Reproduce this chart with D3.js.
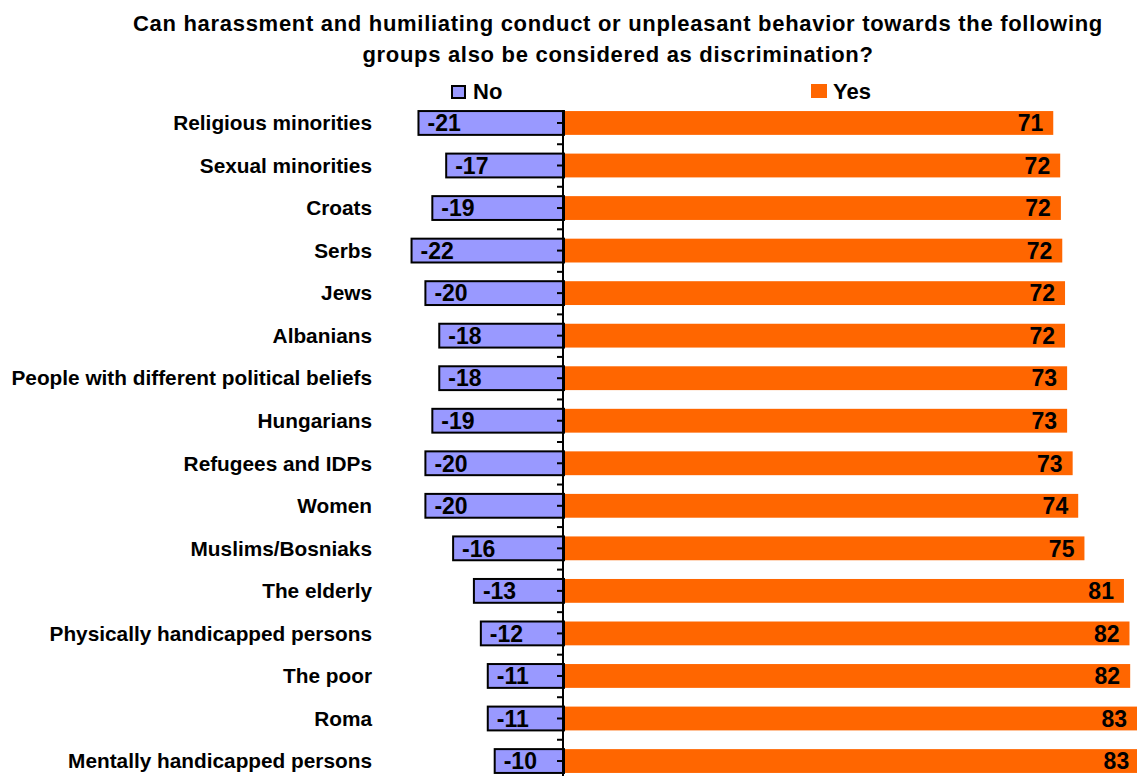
<!DOCTYPE html>
<html>
<head>
<meta charset="utf-8">
<script src="https://cdn.jsdelivr.net/npm/d3@7"></script>
<style>
  html, body { margin: 0; padding: 0; background: #fff; }
  svg text { font-family: Arial, "Liberation Sans", Helvetica, sans-serif; font-weight: bold; fill: #000; }
</style>
</head>
<body>
<svg id="chart" width="1137" height="776"></svg>
<script>
const titleLines = [
  "Can harassment and humiliating conduct or unpleasant behavior towards the following",
  "groups also be considered as discrimination?"
];
const categories = [
  "Religious minorities", "Sexual minorities", "Croats", "Serbs", "Jews", "Albanians",
  "People with different political beliefs", "Hungarians", "Refugees and IDPs", "Women",
  "Muslims/Bosniaks", "The elderly", "Physically handicapped persons", "The poor", "Roma",
  "Mentally handicapped persons"
];
const noValues  = [-21, -17, -19, -22, -20, -18, -18, -19, -20, -20, -16, -13, -12, -11, -11, -10];
const yesValues = [70.6, 71.6, 71.7, 71.9, 72.3, 72.3, 72.6, 72.6, 73.4, 74.2, 75.1, 80.8, 81.6, 81.7, 82.7, 83.0];
const seriesNames = ["No", "Yes"];
const seriesColors = ["#9999FF", "#FF6600"];

const svg = d3.select("#chart");

// Title
svg.append("g").selectAll("text").data(titleLines).join("text")
  .attr("x", 618).attr("y", (d, i) => 31 + i * 31)
  .attr("text-anchor", "middle").attr("font-size", 22).attr("letter-spacing", 0.7).text(d => d);

const x = d3.scaleLinear().domain([0, 83]).range([564, 564 + 83 * 6.93]);
const y = d3.scaleBand().domain(categories).range([101.7, 782.3]).paddingInner(0.44).paddingOuter(0.22);
const step = y.step();
const center = c => y(c) + y.bandwidth() / 2;

// Yes bars
svg.append("g").selectAll("rect").data(categories).join("rect")
  .attr("x", x(0) + 1).attr("y", c => y(c))
  .attr("width", (c, i) => x(yesValues[i]) - x(0) - 1)
  .attr("height", y.bandwidth())
  .attr("fill", seriesColors[1]);

// No bars
svg.append("g").selectAll("rect").data(categories).join("rect")
  .attr("x", (c, i) => x(noValues[i]))
  .attr("y", c => y(c))
  .attr("width", (c, i) => x(0) - x(noValues[i]))
  .attr("height", y.bandwidth())
  .attr("fill", seriesColors[0]).attr("stroke", "#000").attr("stroke-width", 2);

// Axis line with ticks at centers and boundaries
const axisG = svg.append("g");
const tickYs = [];
categories.forEach(c => { tickYs.push(center(c)); tickYs.push(center(c) + step / 2); });
axisG.selectAll("line.tick").data(tickYs).join("line")
  .attr("x1", x(0) - 7).attr("x2", x(0)).attr("y1", d => d).attr("y2", d => d)
  .attr("stroke", "#000").attr("stroke-width", 2);
axisG.append("line")
  .attr("x1", x(0) - 1).attr("x2", x(0) - 1)
  .attr("y1", y(categories[0]) - 1).attr("y2", 776)
  .attr("stroke", "#000").attr("stroke-width", 2);

// Category labels
svg.append("g").selectAll("text").data(categories).join("text")
  .attr("x", 372).attr("y", c => center(c)).attr("dy", "0.35em")
  .attr("text-anchor", "end").attr("font-size", 20.8).text(c => c);

// No value labels
svg.append("g").selectAll("text").data(categories).join("text")
  .attr("x", (c, i) => x(noValues[i]) + 9).attr("y", c => center(c)).attr("dy", "0.36em")
  .attr("font-size", 23).text((c, i) => String(noValues[i]));

// Yes value labels
svg.append("g").selectAll("text").data(categories).join("text")
  .attr("x", (c, i) => x(yesValues[i]) - 10).attr("y", c => center(c)).attr("dy", "0.36em")
  .attr("text-anchor", "end").attr("font-size", 23).text((c, i) => String(Math.round(yesValues[i])));

// Legend
const legend = svg.append("g");
legend.append("rect").attr("x", 452).attr("y", 86).attr("width", 13).attr("height", 12)
  .attr("fill", seriesColors[0]).attr("stroke", "#000").attr("stroke-width", 2);
legend.append("text").attr("x", 473).attr("y", 99).attr("font-size", 22).text(seriesNames[0]);
legend.append("rect").attr("x", 811).attr("y", 84).attr("width", 16).attr("height", 14)
  .attr("fill", seriesColors[1]);
legend.append("text").attr("x", 833).attr("y", 99).attr("font-size", 22).text(seriesNames[1]);
</script>
</body>
</html>
